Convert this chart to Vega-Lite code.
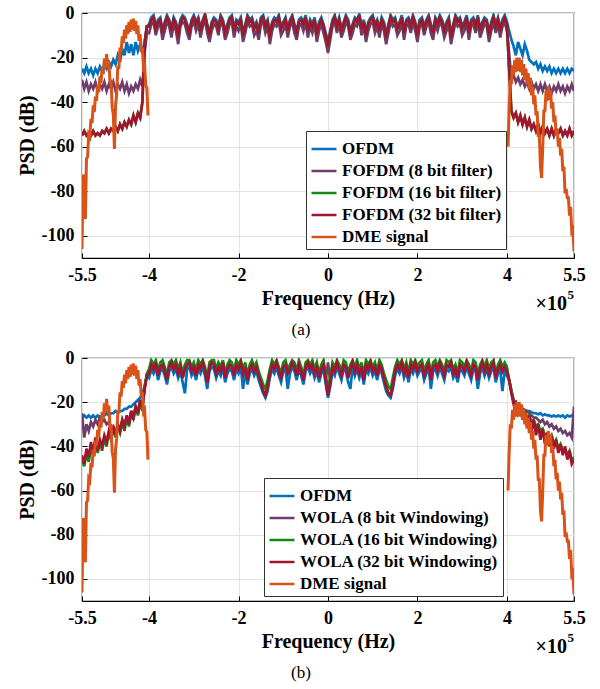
{
"$schema":"https://vega.github.io/schema/vega-lite/v6.json",
"padding":{"left":16,"top":3,"right":5,"bottom":5},
"config":{
"font":"Liberation Serif",
"view":{"stroke":"black","strokeWidth":1.2},
"axis":{"labelFont":"Liberation Serif","labelFontSize":18,"labelFontWeight":"bold","labelColor":"black","titleFont":"Liberation Serif","titleFontSize":20,"titleFontWeight":"bold","titleColor":"black","gridColor":"#e3e3e3","gridWidth":1,"domain":false,"tickColor":"black","tickSize":-5,"labelPadding":13},
"legend":{"orient":"none","title":null,"symbolType":"stroke","symbolSize":625,"symbolStrokeWidth":2.5,"labelFont":"Liberation Serif","labelFontSize":17,"labelFontWeight":"bold","labelColor":"black","labelLimit":0,"fillColor":"white","strokeColor":"#333333","padding":4,"rowPadding":-2.7,"labelOffset":4},
"title":{"font":"Liberation Serif","fontSize":17,"fontWeight":"normal","color":"black"}
},
"datasets":{
"a":[
{"f":-5.5,"O":-25,"P":-30,"G":-55,"R":-55},
{"f":-5.45,"O":-27,"P":-34,"G":-53,"R":-53},
{"f":-5.4,"O":-24,"P":-31,"G":-55,"R":-55},
{"f":-5.35,"O":-27,"P":-35,"G":-54,"R":-54},
{"f":-5.3,"O":-25,"P":-32,"G":-55,"R":-55},
{"f":-5.25,"O":-28,"P":-34,"G":-53,"R":-53},
{"f":-5.2,"O":-25,"P":-31,"G":-55,"R":-55},
{"f":-5.15,"O":-27,"P":-35,"G":-54,"R":-54},
{"f":-5.1,"O":-24,"P":-32,"G":-55,"R":-55},
{"f":-5.05,"O":-26,"P":-34,"G":-53,"R":-53},
{"f":-5,"O":-23,"P":-31,"G":-54,"R":-54},
{"f":-4.95,"O":-25,"P":-35,"G":-52,"R":-52},
{"f":-4.9,"O":-22,"P":-32,"G":-54,"R":-54},
{"f":-4.85,"O":-24,"P":-34,"G":-52,"R":-52},
{"f":-4.8,"O":-21,"P":-31,"G":-53,"R":-53},
{"f":-4.75,"O":-23,"P":-35,"G":-51,"R":-51},
{"f":-4.7,"O":-19,"P":-32,"G":-53,"R":-53},
{"f":-4.65,"O":-22,"P":-34,"G":-50,"R":-50},
{"f":-4.6,"O":-16,"P":-31,"G":-52,"R":-52},
{"f":-4.55,"O":-19,"P":-35,"G":-49,"R":-49},
{"f":-4.5,"O":-13,"P":-32,"G":-51,"R":-51},
{"f":-4.45,"O":-18,"P":-36,"G":-48,"R":-48},
{"f":-4.4,"O":-14,"P":-33,"G":-50,"R":-50},
{"f":-4.35,"O":-19,"P":-35,"G":-46,"R":-46},
{"f":-4.3,"O":-13,"P":-32,"G":-49,"R":-49},
{"f":-4.25,"O":-17,"P":-34,"G":-45,"R":-45},
{"f":-4.2,"O":-14,"P":-30,"G":-47,"R":-47},
{"f":-4.15,"O":-18,"P":-33,"G":-40,"R":-40},
{"f":-4.1,"O":-13,"P":-18,"G":-14,"R":-14},
{"f":-4.05,"O":-6,"P":-9,"G":-6,"R":-6},
{"f":-4,"O":-5,"P":-9,"G":-6,"R":-6},
{"f":-3.95,"O":-2,"P":-5,"G":-3,"R":-3},
{"f":-3.9,"O":-1,"P":-4,"G":-2,"R":-2},
{"f":-3.85,"O":-6,"P":-10,"G":-7,"R":-7},
{"f":-3.8,"O":-3,"P":-6,"G":-4,"R":-4},
{"f":-3.75,"O":-2,"P":-5,"G":-3,"R":-3},
{"f":-3.7,"O":-8,"P":-12,"G":-9,"R":-9},
{"f":-3.65,"O":-4,"P":-8,"G":-5,"R":-5},
{"f":-3.6,"O":-1,"P":-4,"G":-2,"R":-2},
{"f":-3.55,"O":-3,"P":-6,"G":-4,"R":-4},
{"f":-3.5,"O":-7,"P":-11,"G":-8,"R":-8},
{"f":-3.45,"O":-2,"P":-5,"G":-3,"R":-3},
{"f":-3.4,"O":-4,"P":-8,"G":-5,"R":-5},
{"f":-3.35,"O":-10,"P":-14,"G":-11,"R":-11},
{"f":-3.3,"O":-3,"P":-6,"G":-4,"R":-4},
{"f":-3.25,"O":-1,"P":-4,"G":-2,"R":-2},
{"f":-3.2,"O":-2,"P":-5,"G":-3,"R":-3},
{"f":-3.15,"O":-5,"P":-9,"G":-6,"R":-6},
{"f":-3.1,"O":-8,"P":-12,"G":-9,"R":-9},
{"f":-3.05,"O":-3,"P":-6,"G":-4,"R":-4},
{"f":-3,"O":-1,"P":-4,"G":-2,"R":-2},
{"f":-2.95,"O":-4,"P":-8,"G":-5,"R":-5},
{"f":-2.9,"O":-2,"P":-5,"G":-3,"R":-3},
{"f":-2.85,"O":-7,"P":-11,"G":-8,"R":-8},
{"f":-2.8,"O":-3,"P":-6,"G":-4,"R":-4},
{"f":-2.75,"O":-0.5,"P":-3,"G":-1,"R":-1},
{"f":-2.7,"O":-5,"P":-9,"G":-6,"R":-6},
{"f":-2.65,"O":-9,"P":-13,"G":-10,"R":-10},
{"f":-2.6,"O":-4,"P":-8,"G":-5,"R":-5},
{"f":-2.55,"O":-2,"P":-5,"G":-3,"R":-3},
{"f":-2.5,"O":-3,"P":-6,"G":-4,"R":-4},
{"f":-2.45,"O":-6,"P":-10,"G":-7,"R":-7},
{"f":-2.4,"O":-1,"P":-4,"G":-2,"R":-2},
{"f":-2.35,"O":-3,"P":-6,"G":-4,"R":-4},
{"f":-2.3,"O":-8,"P":-12,"G":-9,"R":-9},
{"f":-2.25,"O":-5,"P":-9,"G":-6,"R":-6},
{"f":-2.2,"O":-2,"P":-5,"G":-3,"R":-3},
{"f":-2.15,"O":-1,"P":-4,"G":-2,"R":-2},
{"f":-2.1,"O":-7,"P":-11,"G":-8,"R":-8},
{"f":-2.05,"O":-3,"P":-6,"G":-4,"R":-4},
{"f":-2,"O":-4,"P":-8,"G":-5,"R":-5},
{"f":-1.95,"O":-2,"P":-5,"G":-3,"R":-3},
{"f":-1.9,"O":-9,"P":-13,"G":-10,"R":-10},
{"f":-1.85,"O":-5,"P":-9,"G":-6,"R":-6},
{"f":-1.8,"O":-1,"P":-4,"G":-2,"R":-2},
{"f":-1.75,"O":-3,"P":-6,"G":-4,"R":-4},
{"f":-1.7,"O":-2,"P":-5,"G":-3,"R":-3},
{"f":-1.65,"O":-6,"P":-10,"G":-7,"R":-7},
{"f":-1.6,"O":-4,"P":-8,"G":-5,"R":-5},
{"f":-1.55,"O":-8,"P":-12,"G":-9,"R":-9},
{"f":-1.5,"O":-2,"P":-5,"G":-3,"R":-3},
{"f":-1.45,"O":-1,"P":-4,"G":-2,"R":-2},
{"f":-1.4,"O":-5,"P":-9,"G":-6,"R":-6},
{"f":-1.35,"O":-3,"P":-6,"G":-4,"R":-4},
{"f":-1.3,"O":-10,"P":-14,"G":-11,"R":-11},
{"f":-1.25,"O":-4,"P":-8,"G":-5,"R":-5},
{"f":-1.2,"O":-2,"P":-5,"G":-3,"R":-3},
{"f":-1.15,"O":-3,"P":-6,"G":-4,"R":-4},
{"f":-1.1,"O":-1,"P":-4,"G":-2,"R":-2},
{"f":-1.05,"O":-6,"P":-10,"G":-7,"R":-7},
{"f":-1,"O":-4,"P":-8,"G":-5,"R":-5},
{"f":-0.95,"O":-2,"P":-5,"G":-3,"R":-3},
{"f":-0.9,"O":-7,"P":-11,"G":-8,"R":-8},
{"f":-0.85,"O":-3,"P":-6,"G":-4,"R":-4},
{"f":-0.8,"O":-1,"P":-4,"G":-2,"R":-2},
{"f":-0.75,"O":-5,"P":-9,"G":-6,"R":-6},
{"f":-0.7,"O":-8,"P":-12,"G":-9,"R":-9},
{"f":-0.65,"O":-3,"P":-6,"G":-4,"R":-4},
{"f":-0.6,"O":-2,"P":-5,"G":-3,"R":-3},
{"f":-0.55,"O":-4,"P":-8,"G":-5,"R":-5},
{"f":-0.5,"O":-1,"P":-4,"G":-2,"R":-2},
{"f":-0.45,"O":-7,"P":-11,"G":-8,"R":-8},
{"f":-0.4,"O":-3,"P":-6,"G":-4,"R":-4},
{"f":-0.35,"O":-5,"P":-9,"G":-6,"R":-6},
{"f":-0.3,"O":-2,"P":-5,"G":-3,"R":-3},
{"f":-0.25,"O":-9,"P":-13,"G":-10,"R":-10},
{"f":-0.2,"O":-4,"P":-8,"G":-5,"R":-5},
{"f":-0.15,"O":-2,"P":-5,"G":-3,"R":-3},
{"f":-0.1,"O":-5,"P":-9,"G":-6,"R":-6},
{"f":-0.05,"O":-9,"P":-13,"G":-10,"R":-10},
{"f":0,"O":-13,"P":-18,"G":-15,"R":-15},
{"f":0.05,"O":-8,"P":-12,"G":-9,"R":-9},
{"f":0.1,"O":-3,"P":-6,"G":-4,"R":-4},
{"f":0.15,"O":-1,"P":-4,"G":-2,"R":-2},
{"f":0.2,"O":-5,"P":-9,"G":-6,"R":-6},
{"f":0.25,"O":-2,"P":-5,"G":-3,"R":-3},
{"f":0.3,"O":-7,"P":-11,"G":-8,"R":-8},
{"f":0.35,"O":-4,"P":-8,"G":-5,"R":-5},
{"f":0.4,"O":-1,"P":-4,"G":-2,"R":-2},
{"f":0.45,"O":-3,"P":-6,"G":-4,"R":-4},
{"f":0.5,"O":-8,"P":-12,"G":-9,"R":-9},
{"f":0.55,"O":-5,"P":-9,"G":-6,"R":-6},
{"f":0.6,"O":-2,"P":-5,"G":-3,"R":-3},
{"f":0.65,"O":-3,"P":-6,"G":-4,"R":-4},
{"f":0.7,"O":-0.5,"P":-3,"G":-1,"R":-1},
{"f":0.75,"O":-6,"P":-10,"G":-7,"R":-7},
{"f":0.8,"O":-3,"P":-6,"G":-4,"R":-4},
{"f":0.85,"O":-9,"P":-13,"G":-10,"R":-10},
{"f":0.9,"O":-4,"P":-8,"G":-5,"R":-5},
{"f":0.95,"O":-2,"P":-5,"G":-3,"R":-3},
{"f":1,"O":-1,"P":-4,"G":-2,"R":-2},
{"f":1.05,"O":-5,"P":-9,"G":-6,"R":-6},
{"f":1.1,"O":-3,"P":-6,"G":-4,"R":-4},
{"f":1.15,"O":-7,"P":-11,"G":-8,"R":-8},
{"f":1.2,"O":-2,"P":-5,"G":-3,"R":-3},
{"f":1.25,"O":-4,"P":-8,"G":-5,"R":-5},
{"f":1.3,"O":-10,"P":-14,"G":-11,"R":-11},
{"f":1.35,"O":-5,"P":-9,"G":-6,"R":-6},
{"f":1.4,"O":-1,"P":-4,"G":-2,"R":-2},
{"f":1.45,"O":-3,"P":-6,"G":-4,"R":-4},
{"f":1.5,"O":-2,"P":-5,"G":-3,"R":-3},
{"f":1.55,"O":-6,"P":-10,"G":-7,"R":-7},
{"f":1.6,"O":-4,"P":-8,"G":-5,"R":-5},
{"f":1.65,"O":-1,"P":-4,"G":-2,"R":-2},
{"f":1.7,"O":-8,"P":-12,"G":-9,"R":-9},
{"f":1.75,"O":-3,"P":-6,"G":-4,"R":-4},
{"f":1.8,"O":-2,"P":-5,"G":-3,"R":-3},
{"f":1.85,"O":-5,"P":-9,"G":-6,"R":-6},
{"f":1.9,"O":-1,"P":-4,"G":-2,"R":-2},
{"f":1.95,"O":-4,"P":-8,"G":-5,"R":-5},
{"f":2,"O":-9,"P":-13,"G":-10,"R":-10},
{"f":2.05,"O":-3,"P":-6,"G":-4,"R":-4},
{"f":2.1,"O":-2,"P":-5,"G":-3,"R":-3},
{"f":2.15,"O":-6,"P":-10,"G":-7,"R":-7},
{"f":2.2,"O":-3,"P":-6,"G":-4,"R":-4},
{"f":2.25,"O":-1,"P":-4,"G":-2,"R":-2},
{"f":2.3,"O":-5,"P":-9,"G":-6,"R":-6},
{"f":2.35,"O":-8,"P":-12,"G":-9,"R":-9},
{"f":2.4,"O":-2,"P":-5,"G":-3,"R":-3},
{"f":2.45,"O":-4,"P":-8,"G":-5,"R":-5},
{"f":2.5,"O":-1,"P":-4,"G":-2,"R":-2},
{"f":2.55,"O":-3,"P":-6,"G":-4,"R":-4},
{"f":2.6,"O":-7,"P":-11,"G":-8,"R":-8},
{"f":2.65,"O":-4,"P":-8,"G":-5,"R":-5},
{"f":2.7,"O":-2,"P":-5,"G":-3,"R":-3},
{"f":2.75,"O":-10,"P":-14,"G":-11,"R":-11},
{"f":2.8,"O":-5,"P":-9,"G":-6,"R":-6},
{"f":2.85,"O":-1,"P":-4,"G":-2,"R":-2},
{"f":2.9,"O":-3,"P":-6,"G":-4,"R":-4},
{"f":2.95,"O":-2,"P":-5,"G":-3,"R":-3},
{"f":3,"O":-6,"P":-10,"G":-7,"R":-7},
{"f":3.05,"O":-4,"P":-8,"G":-5,"R":-5},
{"f":3.1,"O":-1,"P":-4,"G":-2,"R":-2},
{"f":3.15,"O":-8,"P":-12,"G":-9,"R":-9},
{"f":3.2,"O":-3,"P":-6,"G":-4,"R":-4},
{"f":3.25,"O":-2,"P":-5,"G":-3,"R":-3},
{"f":3.3,"O":-5,"P":-9,"G":-6,"R":-6},
{"f":3.35,"O":-1,"P":-4,"G":-2,"R":-2},
{"f":3.4,"O":-7,"P":-11,"G":-8,"R":-8},
{"f":3.45,"O":-4,"P":-8,"G":-5,"R":-5},
{"f":3.5,"O":-2,"P":-5,"G":-3,"R":-3},
{"f":3.55,"O":-3,"P":-6,"G":-4,"R":-4},
{"f":3.6,"O":-9,"P":-13,"G":-10,"R":-10},
{"f":3.65,"O":-4,"P":-8,"G":-5,"R":-5},
{"f":3.7,"O":-1,"P":-4,"G":-2,"R":-2},
{"f":3.75,"O":-5,"P":-9,"G":-6,"R":-6},
{"f":3.8,"O":-2,"P":-5,"G":-3,"R":-3},
{"f":3.85,"O":-7,"P":-11,"G":-8,"R":-8},
{"f":3.9,"O":-3,"P":-6,"G":-4,"R":-4},
{"f":3.95,"O":-1,"P":-4,"G":-2,"R":-2},
{"f":4,"O":-4,"P":-8,"G":-5,"R":-5},
{"f":4.05,"O":-8,"P":-18,"G":-25,"R":-25},
{"f":4.1,"O":-12,"P":-30,"G":-44,"R":-44},
{"f":4.15,"O":-15,"P":-28,"G":-47,"R":-47},
{"f":4.2,"O":-19,"P":-31,"G":-45,"R":-45},
{"f":4.25,"O":-13,"P":-29,"G":-49,"R":-49},
{"f":4.3,"O":-16,"P":-32,"G":-46,"R":-46},
{"f":4.35,"O":-19,"P":-30,"G":-50,"R":-50},
{"f":4.4,"O":-14,"P":-33,"G":-47,"R":-47},
{"f":4.45,"O":-17,"P":-31,"G":-51,"R":-51},
{"f":4.5,"O":-21,"P":-34,"G":-48,"R":-48},
{"f":4.55,"O":-22,"P":-31,"G":-52,"R":-52},
{"f":4.6,"O":-23,"P":-34,"G":-50,"R":-50},
{"f":4.65,"O":-22,"P":-32,"G":-53,"R":-53},
{"f":4.7,"O":-25,"P":-35,"G":-50,"R":-50},
{"f":4.75,"O":-23,"P":-32,"G":-54,"R":-54},
{"f":4.8,"O":-26,"P":-35,"G":-51,"R":-51},
{"f":4.85,"O":-24,"P":-32,"G":-54,"R":-54},
{"f":4.9,"O":-26,"P":-35,"G":-52,"R":-52},
{"f":4.95,"O":-24,"P":-33,"G":-55,"R":-55},
{"f":5,"O":-27,"P":-36,"G":-52,"R":-52},
{"f":5.05,"O":-25,"P":-33,"G":-55,"R":-55},
{"f":5.1,"O":-27,"P":-35,"G":-52,"R":-52},
{"f":5.15,"O":-25,"P":-32,"G":-54,"R":-54},
{"f":5.2,"O":-27,"P":-35,"G":-52,"R":-52},
{"f":5.25,"O":-25,"P":-33,"G":-55,"R":-55},
{"f":5.3,"O":-27,"P":-36,"G":-53,"R":-53},
{"f":5.35,"O":-25,"P":-33,"G":-55,"R":-55},
{"f":5.4,"O":-27,"P":-35,"G":-52,"R":-52},
{"f":5.45,"O":-25,"P":-32,"G":-55,"R":-55},
{"f":5.5,"O":-26,"P":-35,"G":-53,"R":-53}
],
"b":[
{"f":-5.5,"O":-27,"P":-25,"G":-46,"R":-44},
{"f":-5.45,"O":-26,"P":-36,"G":-49,"R":-48},
{"f":-5.4,"O":-27,"P":-30,"G":-43,"R":-41},
{"f":-5.35,"O":-26,"P":-33,"G":-47,"R":-45},
{"f":-5.3,"O":-27,"P":-29,"G":-41,"R":-38},
{"f":-5.25,"O":-26,"P":-31,"G":-44,"R":-43},
{"f":-5.2,"O":-27,"P":-28,"G":-38,"R":-36},
{"f":-5.15,"O":-26,"P":-30,"G":-43,"R":-42},
{"f":-5.1,"O":-27,"P":-27,"G":-38,"R":-37},
{"f":-5.05,"O":-26,"P":-29,"G":-42,"R":-40},
{"f":-5,"O":-26,"P":-28,"G":-36,"R":-35},
{"f":-4.95,"O":-25,"P":-30,"G":-40,"R":-38},
{"f":-4.9,"O":-26,"P":-29,"G":-34,"R":-33},
{"f":-4.85,"O":-25,"P":-32,"G":-37,"R":-36},
{"f":-4.8,"O":-25,"P":-31,"G":-32,"R":-31},
{"f":-4.75,"O":-24,"P":-35,"G":-36,"R":-35},
{"f":-4.7,"O":-25,"P":-30,"G":-31,"R":-30},
{"f":-4.65,"O":-24,"P":-33,"G":-34,"R":-33},
{"f":-4.6,"O":-24,"P":-28,"G":-29,"R":-28},
{"f":-4.55,"O":-23,"P":-31,"G":-33,"R":-31},
{"f":-4.5,"O":-23,"P":-26,"G":-27,"R":-26},
{"f":-4.45,"O":-22,"P":-30,"G":-31,"R":-30},
{"f":-4.4,"O":-22,"P":-24,"G":-25,"R":-24},
{"f":-4.35,"O":-21,"P":-27,"G":-28,"R":-27},
{"f":-4.3,"O":-20,"P":-22,"G":-22,"R":-22},
{"f":-4.25,"O":-19,"P":-25,"G":-26,"R":-25},
{"f":-4.2,"O":-18,"P":-19,"G":-20,"R":-19},
{"f":-4.15,"O":-16,"P":-22,"G":-24,"R":-22},
{"f":-4.1,"O":-13,"P":-14,"G":-13,"R":-14},
{"f":-4.05,"O":-8,"P":-8,"G":-7,"R":-8},
{"f":-4,"O":-9,"P":-7,"G":-5,"R":-7},
{"f":-3.95,"O":-5,"P":-3,"G":-1,"R":-3},
{"f":-3.9,"O":-7,"P":-5,"G":-3,"R":-5},
{"f":-3.85,"O":-4,"P":-2,"G":-1,"R":-2},
{"f":-3.8,"O":-10,"P":-8,"G":-6,"R":-8},
{"f":-3.75,"O":-6,"P":-4,"G":-2,"R":-4},
{"f":-3.7,"O":-5,"P":-3,"G":-1,"R":-3},
{"f":-3.65,"O":-8,"P":-6,"G":-4,"R":-6},
{"f":-3.6,"O":-12,"P":-10,"G":-8,"R":-10},
{"f":-3.55,"O":-6,"P":-4,"G":-2,"R":-4},
{"f":-3.5,"O":-4,"P":-2,"G":-1,"R":-2},
{"f":-3.45,"O":-7,"P":-5,"G":-3,"R":-5},
{"f":-3.4,"O":-5,"P":-3,"G":-1,"R":-3},
{"f":-3.35,"O":-9,"P":-7,"G":-5,"R":-7},
{"f":-3.3,"O":-6,"P":-4,"G":-2,"R":-4},
{"f":-3.25,"O":-11,"P":-9,"G":-7,"R":-9},
{"f":-3.2,"O":-16,"P":-5,"G":-3,"R":-5},
{"f":-3.15,"O":-5,"P":-3,"G":-1,"R":-3},
{"f":-3.1,"O":-4,"P":-2,"G":-1,"R":-2},
{"f":-3.05,"O":-8,"P":-6,"G":-4,"R":-6},
{"f":-3,"O":-6,"P":-4,"G":-2,"R":-4},
{"f":-2.95,"O":-10,"P":-8,"G":-6,"R":-8},
{"f":-2.9,"O":-5,"P":-3,"G":-1,"R":-3},
{"f":-2.85,"O":-7,"P":-5,"G":-3,"R":-5},
{"f":-2.8,"O":-4,"P":-2,"G":-1,"R":-2},
{"f":-2.75,"O":-8,"P":-6,"G":-4,"R":-6},
{"f":-2.7,"O":-14,"P":-11,"G":-9,"R":-11},
{"f":-2.65,"O":-6,"P":-4,"G":-2,"R":-4},
{"f":-2.6,"O":-4,"P":-2,"G":-1,"R":-2},
{"f":-2.55,"O":-5,"P":-3,"G":-1,"R":-3},
{"f":-2.5,"O":-9,"P":-7,"G":-5,"R":-7},
{"f":-2.45,"O":-6,"P":-4,"G":-2,"R":-4},
{"f":-2.4,"O":-8,"P":-6,"G":-4,"R":-6},
{"f":-2.35,"O":-4,"P":-2,"G":-1,"R":-2},
{"f":-2.3,"O":-11,"P":-9,"G":-7,"R":-9},
{"f":-2.25,"O":-7,"P":-5,"G":-3,"R":-5},
{"f":-2.2,"O":-5,"P":-3,"G":-1,"R":-3},
{"f":-2.15,"O":-6,"P":-4,"G":-2,"R":-4},
{"f":-2.1,"O":-10,"P":-8,"G":-6,"R":-8},
{"f":-2.05,"O":-5,"P":-3,"G":-1,"R":-3},
{"f":-2,"O":-7,"P":-5,"G":-3,"R":-5},
{"f":-1.95,"O":-4,"P":-2,"G":-1,"R":-2},
{"f":-1.9,"O":-14,"P":-7,"G":-5,"R":-7},
{"f":-1.85,"O":-6,"P":-4,"G":-2,"R":-4},
{"f":-1.8,"O":-12,"P":-10,"G":-8,"R":-10},
{"f":-1.75,"O":-7,"P":-5,"G":-3,"R":-5},
{"f":-1.7,"O":-5,"P":-3,"G":-1,"R":-3},
{"f":-1.65,"O":-8,"P":-6,"G":-4,"R":-6},
{"f":-1.6,"O":-6,"P":-4,"G":-2,"R":-4},
{"f":-1.55,"O":-10,"P":-8,"G":-6,"R":-8},
{"f":-1.5,"O":-13,"P":-11,"G":-9,"R":-11},
{"f":-1.45,"O":-16,"P":-15,"G":-12,"R":-15},
{"f":-1.4,"O":-18,"P":-17,"G":-14,"R":-17},
{"f":-1.35,"O":-15,"P":-13,"G":-10,"R":-13},
{"f":-1.3,"O":-9,"P":-7,"G":-5,"R":-7},
{"f":-1.25,"O":-5,"P":-3,"G":-1,"R":-3},
{"f":-1.2,"O":-7,"P":-5,"G":-3,"R":-5},
{"f":-1.15,"O":-4,"P":-2,"G":-1,"R":-2},
{"f":-1.1,"O":-8,"P":-6,"G":-4,"R":-6},
{"f":-1.05,"O":-11,"P":-9,"G":-7,"R":-9},
{"f":-1,"O":-6,"P":-4,"G":-2,"R":-4},
{"f":-0.95,"O":-5,"P":-3,"G":-1,"R":-3},
{"f":-0.9,"O":-14,"P":-7,"G":-5,"R":-7},
{"f":-0.85,"O":-7,"P":-5,"G":-3,"R":-5},
{"f":-0.8,"O":-4,"P":-2,"G":-1,"R":-2},
{"f":-0.75,"O":-6,"P":-4,"G":-2,"R":-4},
{"f":-0.7,"O":-10,"P":-8,"G":-6,"R":-8},
{"f":-0.65,"O":-5,"P":-3,"G":-1,"R":-3},
{"f":-0.6,"O":-8,"P":-6,"G":-4,"R":-6},
{"f":-0.55,"O":-12,"P":-10,"G":-8,"R":-10},
{"f":-0.5,"O":-6,"P":-4,"G":-2,"R":-4},
{"f":-0.45,"O":-4,"P":-2,"G":-1,"R":-2},
{"f":-0.4,"O":-7,"P":-5,"G":-3,"R":-5},
{"f":-0.35,"O":-5,"P":-3,"G":-1,"R":-3},
{"f":-0.3,"O":-9,"P":-7,"G":-5,"R":-7},
{"f":-0.25,"O":-6,"P":-4,"G":-2,"R":-4},
{"f":-0.2,"O":-11,"P":-9,"G":-7,"R":-9},
{"f":-0.15,"O":-7,"P":-5,"G":-3,"R":-5},
{"f":-0.1,"O":-5,"P":-3,"G":-1,"R":-3},
{"f":-0.05,"O":-12,"P":-10,"G":-8,"R":-10},
{"f":0,"O":-18,"P":-2,"G":-14,"R":-17},
{"f":0.05,"O":-13,"P":-11,"G":-9,"R":-11},
{"f":0.1,"O":-6,"P":-4,"G":-2,"R":-4},
{"f":0.15,"O":-8,"P":-6,"G":-4,"R":-6},
{"f":0.2,"O":-4,"P":-2,"G":-1,"R":-2},
{"f":0.25,"O":-7,"P":-5,"G":-3,"R":-5},
{"f":0.3,"O":-10,"P":-8,"G":-6,"R":-8},
{"f":0.35,"O":-5,"P":-3,"G":-1,"R":-3},
{"f":0.4,"O":-6,"P":-4,"G":-2,"R":-4},
{"f":0.45,"O":-11,"P":-9,"G":-7,"R":-9},
{"f":0.5,"O":-14,"P":-5,"G":-3,"R":-5},
{"f":0.55,"O":-4,"P":-2,"G":-1,"R":-2},
{"f":0.6,"O":-8,"P":-6,"G":-4,"R":-6},
{"f":0.65,"O":-5,"P":-3,"G":-1,"R":-3},
{"f":0.7,"O":-9,"P":-7,"G":-5,"R":-7},
{"f":0.75,"O":-6,"P":-4,"G":-2,"R":-4},
{"f":0.8,"O":-12,"P":-10,"G":-8,"R":-10},
{"f":0.85,"O":-5,"P":-3,"G":-1,"R":-3},
{"f":0.9,"O":-7,"P":-5,"G":-3,"R":-5},
{"f":0.95,"O":-4,"P":-2,"G":-1,"R":-2},
{"f":1,"O":-8,"P":-6,"G":-4,"R":-6},
{"f":1.05,"O":-6,"P":-4,"G":-2,"R":-4},
{"f":1.1,"O":-10,"P":-8,"G":-6,"R":-8},
{"f":1.15,"O":-5,"P":-3,"G":-1,"R":-3},
{"f":1.2,"O":-7,"P":-5,"G":-3,"R":-5},
{"f":1.25,"O":-11,"P":-9,"G":-7,"R":-9},
{"f":1.3,"O":-15,"P":-13,"G":-10,"R":-13},
{"f":1.35,"O":-17,"P":-16,"G":-13,"R":-16},
{"f":1.4,"O":-18,"P":-17,"G":-14,"R":-17},
{"f":1.45,"O":-14,"P":-12,"G":-9,"R":-12},
{"f":1.5,"O":-8,"P":-6,"G":-4,"R":-6},
{"f":1.55,"O":-5,"P":-3,"G":-1,"R":-3},
{"f":1.6,"O":-7,"P":-5,"G":-3,"R":-5},
{"f":1.65,"O":-4,"P":-2,"G":-1,"R":-2},
{"f":1.7,"O":-9,"P":-7,"G":-5,"R":-7},
{"f":1.75,"O":-6,"P":-4,"G":-2,"R":-4},
{"f":1.8,"O":-11,"P":-9,"G":-7,"R":-9},
{"f":1.85,"O":-5,"P":-3,"G":-1,"R":-3},
{"f":1.9,"O":-7,"P":-5,"G":-3,"R":-5},
{"f":1.95,"O":-4,"P":-2,"G":-1,"R":-2},
{"f":2,"O":-8,"P":-6,"G":-4,"R":-6},
{"f":2.05,"O":-6,"P":-4,"G":-2,"R":-4},
{"f":2.1,"O":-5,"P":-3,"G":-1,"R":-3},
{"f":2.15,"O":-10,"P":-8,"G":-6,"R":-8},
{"f":2.2,"O":-7,"P":-5,"G":-3,"R":-5},
{"f":2.25,"O":-4,"P":-2,"G":-1,"R":-2},
{"f":2.3,"O":-14,"P":-10,"G":-8,"R":-10},
{"f":2.35,"O":-6,"P":-4,"G":-2,"R":-4},
{"f":2.4,"O":-5,"P":-3,"G":-1,"R":-3},
{"f":2.45,"O":-8,"P":-6,"G":-4,"R":-6},
{"f":2.5,"O":-4,"P":-2,"G":-1,"R":-2},
{"f":2.55,"O":-7,"P":-5,"G":-3,"R":-5},
{"f":2.6,"O":-10,"P":-8,"G":-6,"R":-8},
{"f":2.65,"O":-5,"P":-3,"G":-1,"R":-3},
{"f":2.7,"O":-6,"P":-4,"G":-2,"R":-4},
{"f":2.75,"O":-4,"P":-2,"G":-1,"R":-2},
{"f":2.8,"O":-9,"P":-7,"G":-5,"R":-7},
{"f":2.85,"O":-7,"P":-5,"G":-3,"R":-5},
{"f":2.9,"O":-11,"P":-9,"G":-7,"R":-9},
{"f":2.95,"O":-5,"P":-3,"G":-1,"R":-3},
{"f":3,"O":-6,"P":-4,"G":-2,"R":-4},
{"f":3.05,"O":-8,"P":-6,"G":-4,"R":-6},
{"f":3.1,"O":-4,"P":-2,"G":-1,"R":-2},
{"f":3.15,"O":-7,"P":-5,"G":-3,"R":-5},
{"f":3.2,"O":-10,"P":-8,"G":-6,"R":-8},
{"f":3.25,"O":-5,"P":-3,"G":-1,"R":-3},
{"f":3.3,"O":-6,"P":-4,"G":-2,"R":-4},
{"f":3.35,"O":-14,"P":-10,"G":-8,"R":-10},
{"f":3.4,"O":-7,"P":-5,"G":-3,"R":-5},
{"f":3.45,"O":-4,"P":-2,"G":-1,"R":-2},
{"f":3.5,"O":-8,"P":-6,"G":-4,"R":-6},
{"f":3.55,"O":-5,"P":-3,"G":-1,"R":-3},
{"f":3.6,"O":-9,"P":-7,"G":-5,"R":-7},
{"f":3.65,"O":-6,"P":-4,"G":-2,"R":-4},
{"f":3.7,"O":-4,"P":-2,"G":-1,"R":-2},
{"f":3.75,"O":-11,"P":-9,"G":-7,"R":-9},
{"f":3.8,"O":-7,"P":-5,"G":-3,"R":-5},
{"f":3.85,"O":-5,"P":-3,"G":-1,"R":-3},
{"f":3.9,"O":-15,"P":-6,"G":-4,"R":-6},
{"f":3.95,"O":-6,"P":-4,"G":-2,"R":-4},
{"f":4,"O":-8,"P":-6,"G":-4,"R":-6},
{"f":4.05,"O":-10,"P":-10,"G":-10,"R":-10},
{"f":4.1,"O":-15,"P":-15,"G":-15,"R":-16},
{"f":4.15,"O":-19,"P":-19,"G":-20,"R":-21},
{"f":4.2,"O":-21,"P":-21,"G":-21,"R":-20},
{"f":4.25,"O":-22,"P":-22,"G":-23,"R":-25},
{"f":4.3,"O":-22.5,"P":-23,"G":-22,"R":-22},
{"f":4.35,"O":-23,"P":-23,"G":-25,"R":-28},
{"f":4.4,"O":-23.5,"P":-24,"G":-24,"R":-24},
{"f":4.45,"O":-24,"P":-24,"G":-27,"R":-31},
{"f":4.5,"O":-24,"P":-25,"G":-26,"R":-26},
{"f":4.55,"O":-24.5,"P":-26,"G":-29,"R":-33},
{"f":4.6,"O":-25,"P":-27,"G":-28,"R":-28},
{"f":4.65,"O":-25,"P":-27,"G":-31,"R":-35},
{"f":4.7,"O":-25.5,"P":-28,"G":-30,"R":-30},
{"f":4.75,"O":-25,"P":-29,"G":-33,"R":-37},
{"f":4.8,"O":-26,"P":-28,"G":-32,"R":-32},
{"f":4.85,"O":-25.5,"P":-30,"G":-35,"R":-39},
{"f":4.9,"O":-26,"P":-29,"G":-34,"R":-34},
{"f":4.95,"O":-26,"P":-31,"G":-37,"R":-40},
{"f":5,"O":-26.5,"P":-30,"G":-35,"R":-35},
{"f":5.05,"O":-26,"P":-32,"G":-39,"R":-41},
{"f":5.1,"O":-26.5,"P":-31,"G":-37,"R":-37},
{"f":5.15,"O":-26,"P":-33,"G":-41,"R":-43},
{"f":5.2,"O":-26.5,"P":-32,"G":-39,"R":-39},
{"f":5.25,"O":-26,"P":-34,"G":-42,"R":-44},
{"f":5.3,"O":-27,"P":-33,"G":-41,"R":-40},
{"f":5.35,"O":-26,"P":-35,"G":-44,"R":-46},
{"f":5.4,"O":-26.5,"P":-34,"G":-42,"R":-42},
{"f":5.45,"O":-26,"P":-36,"G":-46,"R":-48},
{"f":5.5,"O":-26.5,"P":-22,"G":-45,"R":-46}
],
"dme":[
{"f":-5.5,"p":-106,"k":"D","s":"L"},
{"f":-5.475,"p":-72.5,"k":"D","s":"L"},
{"f":-5.45,"p":-77.5,"k":"D","s":"L"},
{"f":-5.425,"p":-92.5,"k":"D","s":"L"},
{"f":-5.4,"p":-65.5,"k":"D","s":"L"},
{"f":-5.375,"p":-64.5,"k":"D","s":"L"},
{"f":-5.35,"p":-54.5,"k":"D","s":"L"},
{"f":-5.325,"p":-55.5,"k":"D","s":"L"},
{"f":-5.3,"p":-47.5,"k":"D","s":"L"},
{"f":-5.275,"p":-49.5,"k":"D","s":"L"},
{"f":-5.25,"p":-41.5,"k":"D","s":"L"},
{"f":-5.225,"p":-44.5,"k":"D","s":"L"},
{"f":-5.2,"p":-37.5,"k":"D","s":"L"},
{"f":-5.175,"p":-39.5,"k":"D","s":"L"},
{"f":-5.15,"p":-32.5,"k":"D","s":"L"},
{"f":-5.125,"p":-35.5,"k":"D","s":"L"},
{"f":-5.1,"p":-28.5,"k":"D","s":"L"},
{"f":-5.075,"p":-31.5,"k":"D","s":"L"},
{"f":-5.05,"p":-24.5,"k":"D","s":"L"},
{"f":-5.025,"p":-27.5,"k":"D","s":"L"},
{"f":-5,"p":-20.5,"k":"D","s":"L"},
{"f":-4.975,"p":-24.5,"k":"D","s":"L"},
{"f":-4.95,"p":-18.5,"k":"D","s":"L"},
{"f":-4.925,"p":-24.5,"k":"D","s":"L"},
{"f":-4.9,"p":-21.5,"k":"D","s":"L"},
{"f":-4.875,"p":-30.5,"k":"D","s":"L"},
{"f":-4.85,"p":-30.5,"k":"D","s":"L"},
{"f":-4.825,"p":-42.5,"k":"D","s":"L"},
{"f":-4.8,"p":-45.5,"k":"D","s":"L"},
{"f":-4.775,"p":-61,"k":"D","s":"L"},
{"f":-4.75,"p":-41.5,"k":"D","s":"L"},
{"f":-4.725,"p":-36.5,"k":"D","s":"L"},
{"f":-4.7,"p":-24.5,"k":"D","s":"L"},
{"f":-4.675,"p":-24.5,"k":"D","s":"L"},
{"f":-4.65,"p":-15.5,"k":"D","s":"L"},
{"f":-4.625,"p":-17.5,"k":"D","s":"L"},
{"f":-4.6,"p":-10.5,"k":"D","s":"L"},
{"f":-4.575,"p":-13.5,"k":"D","s":"L"},
{"f":-4.55,"p":-7.5,"k":"D","s":"L"},
{"f":-4.525,"p":-11.5,"k":"D","s":"L"},
{"f":-4.5,"p":-5.5,"k":"D","s":"L"},
{"f":-4.475,"p":-9.5,"k":"D","s":"L"},
{"f":-4.45,"p":-4,"k":"D","s":"L"},
{"f":-4.425,"p":-8.5,"k":"D","s":"L"},
{"f":-4.4,"p":-3,"k":"D","s":"L"},
{"f":-4.375,"p":-7.5,"k":"D","s":"L"},
{"f":-4.35,"p":-2.5,"k":"D","s":"L"},
{"f":-4.325,"p":-8,"k":"D","s":"L"},
{"f":-4.3,"p":-3.5,"k":"D","s":"L"},
{"f":-4.275,"p":-9.5,"k":"D","s":"L"},
{"f":-4.25,"p":-5.5,"k":"D","s":"L"},
{"f":-4.225,"p":-12.5,"k":"D","s":"L"},
{"f":-4.2,"p":-9.5,"k":"D","s":"L"},
{"f":-4.175,"p":-17.5,"k":"D","s":"L"},
{"f":-4.15,"p":-15.5,"k":"D","s":"L"},
{"f":-4.125,"p":-24.5,"k":"D","s":"L"},
{"f":-4.1,"p":-23.5,"k":"D","s":"L"},
{"f":-4.075,"p":-32.5,"k":"D","s":"L"},
{"f":-4.05,"p":-33.5,"k":"D","s":"L"},
{"f":-4.025,"p":-46,"k":"D","s":"L"},
{"f":4.025,"p":-60,"k":"D","s":"R"},
{"f":4.05,"p":-43,"k":"D","s":"R"},
{"f":4.075,"p":-30,"k":"D","s":"R"},
{"f":4.1,"p":-32,"k":"D","s":"R"},
{"f":4.125,"p":-23.5,"k":"D","s":"R"},
{"f":4.15,"p":-28,"k":"D","s":"R"},
{"f":4.175,"p":-21,"k":"D","s":"R"},
{"f":4.2,"p":-26.5,"k":"D","s":"R"},
{"f":4.225,"p":-20,"k":"D","s":"R"},
{"f":4.25,"p":-26,"k":"D","s":"R"},
{"f":4.275,"p":-20,"k":"D","s":"R"},
{"f":4.3,"p":-26.5,"k":"D","s":"R"},
{"f":4.325,"p":-21,"k":"D","s":"R"},
{"f":4.35,"p":-28,"k":"D","s":"R"},
{"f":4.375,"p":-23,"k":"D","s":"R"},
{"f":4.4,"p":-30,"k":"D","s":"R"},
{"f":4.425,"p":-25,"k":"D","s":"R"},
{"f":4.45,"p":-32,"k":"D","s":"R"},
{"f":4.475,"p":-27,"k":"D","s":"R"},
{"f":4.5,"p":-34,"k":"D","s":"R"},
{"f":4.525,"p":-29,"k":"D","s":"R"},
{"f":4.55,"p":-37,"k":"D","s":"R"},
{"f":4.575,"p":-33,"k":"D","s":"R"},
{"f":4.6,"p":-41,"k":"D","s":"R"},
{"f":4.625,"p":-37,"k":"D","s":"R"},
{"f":4.65,"p":-46,"k":"D","s":"R"},
{"f":4.675,"p":-44,"k":"D","s":"R"},
{"f":4.7,"p":-55,"k":"D","s":"R"},
{"f":4.725,"p":-55,"k":"D","s":"R"},
{"f":4.75,"p":-69,"k":"D","s":"R"},
{"f":4.775,"p":-74,"k":"D","s":"R"},
{"f":4.8,"p":-61,"k":"D","s":"R"},
{"f":4.825,"p":-44,"k":"D","s":"R"},
{"f":4.85,"p":-44,"k":"D","s":"R"},
{"f":4.875,"p":-35,"k":"D","s":"R"},
{"f":4.9,"p":-39.5,"k":"D","s":"R"},
{"f":4.925,"p":-33,"k":"D","s":"R"},
{"f":4.95,"p":-39,"k":"D","s":"R"},
{"f":4.975,"p":-34.5,"k":"D","s":"R"},
{"f":5,"p":-43,"k":"D","s":"R"},
{"f":5.025,"p":-40,"k":"D","s":"R"},
{"f":5.05,"p":-49,"k":"D","s":"R"},
{"f":5.075,"p":-46,"k":"D","s":"R"},
{"f":5.1,"p":-55,"k":"D","s":"R"},
{"f":5.125,"p":-52,"k":"D","s":"R"},
{"f":5.15,"p":-60,"k":"D","s":"R"},
{"f":5.175,"p":-56,"k":"D","s":"R"},
{"f":5.2,"p":-64,"k":"D","s":"R"},
{"f":5.225,"p":-61,"k":"D","s":"R"},
{"f":5.25,"p":-71,"k":"D","s":"R"},
{"f":5.275,"p":-69,"k":"D","s":"R"},
{"f":5.3,"p":-81,"k":"D","s":"R"},
{"f":5.325,"p":-79,"k":"D","s":"R"},
{"f":5.35,"p":-83,"k":"D","s":"R"},
{"f":5.375,"p":-83,"k":"D","s":"R"},
{"f":5.4,"p":-91,"k":"D","s":"R"},
{"f":5.425,"p":-87,"k":"D","s":"R"},
{"f":5.45,"p":-98,"k":"D","s":"R"},
{"f":5.475,"p":-97,"k":"D","s":"R"},
{"f":5.5,"p":-107,"k":"D","s":"R"}
]
},
"spacing":100,
"bounds":"flush",
"resolve":{"scale":{"color":"independent"}},
"vconcat":[
{
"width":492,"height":245,
"title":{"text":"(a)","orient":"bottom","anchor":"middle","offset":8,"dx":-27},
"layer":[
{"data":{"name":"a"},"transform":[{"fold":["O","P","G","R"],"as":["k","p"]}],
"mark":{"type":"line","strokeWidth":2.7,"clip":true},
"encoding":{
"x":{"field":"f","type":"quantitative","scale":{"domain":[-5.5,5.5],"nice":false,"zero":false},"axis":{"values":[-5.5,-4,-2,0,2,4,5.5],"labelExpr":"''+datum.value","labelFlush":false,"labelOverlap":false,"title":"Frequency (Hz)","titleY":40,"titleBaseline":"middle"}},
"y":{"field":"p","type":"quantitative","scale":{"domain":[-110,0],"nice":false,"zero":false},"axis":{"values":[0,-20,-40,-60,-80,-100],"labelExpr":"''+datum.value","title":"PSD (dB)","titleX":-55,"titleY":122,"titleAngle":-90,"titleBaseline":"middle","titleAlign":"center"}},
"color":{"field":"k","type":"nominal","scale":{"domain":["O","P","G","R","D"],"range":["#0072BD","#6E3D6C","#138A13","#A2142F","#D95319"]},"legend":{"legendX":224,"legendY":118,"labelExpr":"datum.label=='O'?'OFDM':datum.label=='P'?'FOFDM (8 bit filter)':datum.label=='G'?'FOFDM (16 bit filter)':datum.label=='R'?'FOFDM (32 bit filter)':'DME signal'"}}
}},
{"data":{"name":"dme"},"mark":{"type":"line","strokeWidth":3,"clip":true},
"encoding":{"x":{"field":"f","type":"quantitative"},"y":{"field":"p","type":"quantitative"},"color":{"field":"k","type":"nominal"},"detail":{"field":"s"}}},
{"data":{"values":[{}]},"mark":{"type":"text","text":"×10","align":"right","baseline":"alphabetic","dx":-7,"font":"Liberation Serif","fontSize":20,"fontWeight":"bold","color":"black"},"encoding":{"x":{"datum":5.5},"y":{"datum":-133.4}}},
{"data":{"values":[{}]},"mark":{"type":"text","text":"5","align":"right","baseline":"alphabetic","dx":0,"font":"Liberation Serif","fontSize":13,"fontWeight":"bold","color":"black"},"encoding":{"x":{"datum":5.5},"y":{"datum":-128.5}}}
]
},
{
"width":492,"height":243,
"title":{"text":"(b)","orient":"bottom","anchor":"middle","offset":8,"dx":-27},
"layer":[
{"data":{"name":"b"},"transform":[{"fold":["O","P","G","R"],"as":["k","p"]}],
"mark":{"type":"line","strokeWidth":2.7,"clip":true},
"encoding":{
"x":{"field":"f","type":"quantitative","scale":{"domain":[-5.5,5.5],"nice":false,"zero":false},"axis":{"values":[-5.5,-4,-2,0,2,4,5.5],"labelExpr":"''+datum.value","labelFlush":false,"labelOverlap":false,"title":"Frequency (Hz)","titleY":40,"titleBaseline":"middle"}},
"y":{"field":"p","type":"quantitative","scale":{"domain":[-110,0],"nice":false,"zero":false},"axis":{"values":[0,-20,-40,-60,-80,-100],"labelExpr":"''+datum.value","title":"PSD (dB)","titleX":-55,"titleY":121,"titleAngle":-90,"titleBaseline":"middle","titleAlign":"center"}},
"color":{"field":"k","type":"nominal","scale":{"domain":["O","P","G","R","D"],"range":["#0072BD","#6E3D6C","#138A13","#A2142F","#D95319"]},"legend":{"legendX":182,"legendY":120,"labelExpr":"datum.label=='O'?'OFDM':datum.label=='P'?'WOLA (8 bit Windowing)':datum.label=='G'?'WOLA (16 bit Windowing)':datum.label=='R'?'WOLA (32 bit Windowing)':'DME signal'"}}
}},
{"data":{"name":"dme"},"mark":{"type":"line","strokeWidth":3,"clip":true},
"encoding":{"x":{"field":"f","type":"quantitative"},"y":{"field":"p","type":"quantitative"},"color":{"field":"k","type":"nominal"},"detail":{"field":"s"}}},
{"data":{"values":[{}]},"mark":{"type":"text","text":"×10","align":"right","baseline":"alphabetic","dx":-7,"font":"Liberation Serif","fontSize":20,"fontWeight":"bold","color":"black"},"encoding":{"x":{"datum":5.5},"y":{"datum":-133.4}}},
{"data":{"values":[{}]},"mark":{"type":"text","text":"5","align":"right","baseline":"alphabetic","dx":0,"font":"Liberation Serif","fontSize":13,"fontWeight":"bold","color":"black"},"encoding":{"x":{"datum":5.5},"y":{"datum":-128.5}}}
]
}
]
}
